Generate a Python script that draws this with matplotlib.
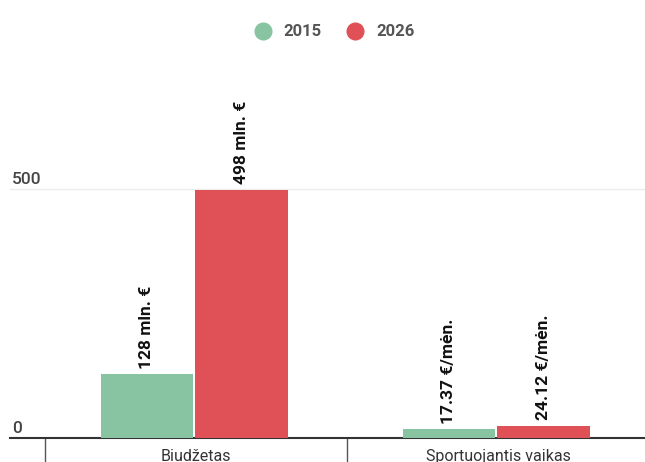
import matplotlib.pyplot as plt
from matplotlib.lines import Line2D

plt.rcParams['font.family'] = ['Roboto', 'DejaVu Sans']

categories = ['Biudžetas', 'Sportuojantis vaikas']
years = ['2015', '2026']
values_2015 = [128, 17.37]
values_2026 = [498, 24.12]
labels_2015 = ['128 mln. €', '17.37 €/mėn.']
labels_2026 = ['498 mln. €', '24.12 €/mėn.']
yticks = [0, 500]

GREEN = '#88c4a1'
RED = '#df5157'

fig = plt.figure(figsize=(6.45, 4.62), dpi=100)
# axes start at the y labels (x=10px), categories start at x=45px
ax = fig.add_axes([10 / 645, 24 / 462, 639 / 645, 358 / 462])

bw = 0.305
off = 0.1565
shift = -0.006
xs = [i + 0.5 for i in range(len(categories))]
b1 = ax.bar([x - off + shift for x in xs], values_2015, bw, color=GREEN, zorder=3)
b2 = ax.bar([x + off + shift for x in xs], values_2026, bw, color=RED, zorder=3)

for bars, labs in ((b1, labels_2015), (b2, labels_2026)):
    for rect, lab in zip(bars, labs):
        ax.annotate(lab, (rect.get_x() + rect.get_width() / 2, rect.get_height()),
                    xytext=(0, 4), textcoords='offset points', rotation=90,
                    ha='center', va='bottom', fontsize=12.5, fontweight='bold',
                    color='#111111', annotation_clip=False)

ax.set_xlim(-35 / 302, 2.0)
ax.set_ylim(0, 719)

# y axis: light gridlines and labels sitting above them
ax.set_yticks(yticks)
ax.tick_params(axis='y', length=0, labelleft=False)
ax.yaxis.grid(True, color='#ececec', linewidth=1, zorder=0)
for t in yticks:
    ax.text(-35 / 302 + 0.007, t + 4, str(t), ha='left', va='bottom',
            fontsize=12.5, fontweight='medium', color='#444444')

# x axis: separators between categories, names in between
ax.set_xticks(range(len(categories) + 1))
ax.set_xticklabels([])
ax.tick_params(axis='x', which='major', length=18, width=1, color='#555555',
               direction='out')
ax.set_xticks(xs, minor=True)
ax.set_xticklabels(categories, minor=True, fontsize=11.5, color='#333333')
ax.tick_params(axis='x', which='minor', length=0, pad=8)

for s in ['top', 'right', 'left']:
    ax.spines[s].set_visible(False)
ax.spines['bottom'].set_color('#333333')
ax.spines['bottom'].set_linewidth(1.5)

handles = [Line2D([], [], marker='o', linestyle='', markersize=12,
                  markerfacecolor=c, markeredgecolor=c) for c in (GREEN, RED)]
leg = fig.legend(handles, years, loc='center', bbox_to_anchor=(0.512, 0.931),
                 ncol=2, frameon=False, fontsize=12, handletextpad=0.25,
                 columnspacing=1.0)
for t in leg.get_texts():
    t.set_color('#555555')
    t.set_fontweight('bold')

fig.savefig('out.png', dpi=100)
